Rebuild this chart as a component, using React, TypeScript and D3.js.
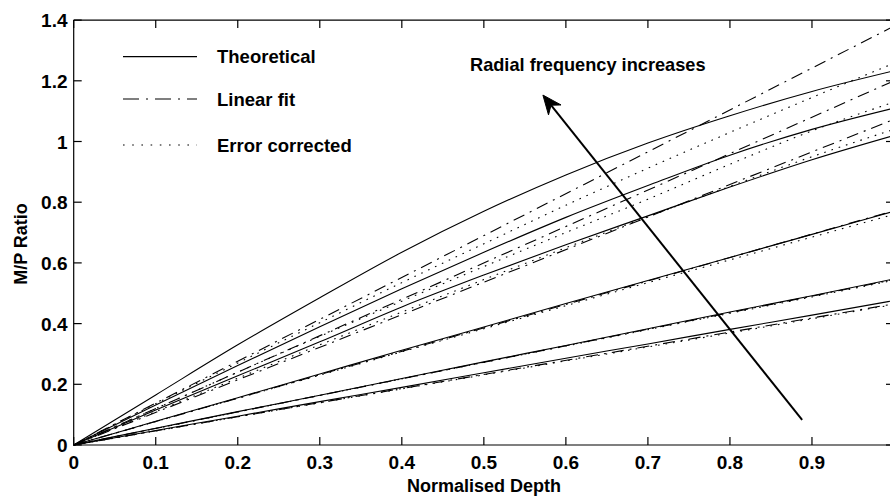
import React from "react";
import * as d3 from "d3";

const depth = [0, 0.1, 0.2, 0.3, 0.4, 0.5, 0.6, 0.7, 0.8, 0.9, 1.0];

const theoretical = [
  [0, 0.165, 0.33, 0.485, 0.635, 0.77, 0.89, 0.995, 1.085, 1.165, 1.233],
  [0, 0.132, 0.262, 0.39, 0.515, 0.635, 0.75, 0.855, 0.955, 1.04, 1.11],
  [0, 0.115, 0.228, 0.34, 0.455, 0.56, 0.66, 0.755, 0.85, 0.94, 1.02],
  [0, 0.078, 0.156, 0.234, 0.312, 0.389, 0.466, 0.542, 0.618, 0.694, 0.77],
  [0, 0.055, 0.11, 0.164, 0.219, 0.274, 0.328, 0.383, 0.438, 0.492, 0.547],
  [0, 0.048, 0.095, 0.143, 0.19, 0.238, 0.286, 0.333, 0.381, 0.428, 0.476],
];

const fitDepth = [0, 1.0];
const linearFit = [
  [0, 1.38],
  [0, 1.2],
  [0, 1.073],
  [0, 0.772],
  [0, 0.545],
  [0, 0.465],
];

const errorCorrected = [
  [0, 0.136, 0.27, 0.403, 0.535, 0.663, 0.79, 0.912, 1.03, 1.145, 1.258],
  [0, 0.12, 0.24, 0.358, 0.474, 0.588, 0.7, 0.81, 0.925, 1.035, 1.13],
  [0, 0.11, 0.22, 0.33, 0.438, 0.545, 0.65, 0.752, 0.852, 0.95, 1.04],
  [0, 0.077, 0.154, 0.23, 0.307, 0.383, 0.459, 0.535, 0.61, 0.685, 0.76],
  [0, 0.054, 0.109, 0.163, 0.218, 0.272, 0.326, 0.38, 0.434, 0.488, 0.543],
  [0, 0.046, 0.093, 0.139, 0.185, 0.231, 0.277, 0.323, 0.369, 0.416, 0.463],
];

const xTicks = [0, 0.1, 0.2, 0.3, 0.4, 0.5, 0.6, 0.7, 0.8, 0.9];
const xTickLabels = ["0", "0.1", "0.2", "0.3", "0.4", "0.5", "0.6", "0.7", "0.8", "0.9"];
const yTicks = [0, 0.2, 0.4, 0.6, 0.8, 1.0, 1.2, 1.4];
const yTickLabels = ["0", "0.2", "0.4", "0.6", "0.8", "1", "1.2", "1.4"];

const legendLabels = ["Theoretical", "Linear fit", "Error corrected"];
const annotationText = "Radial frequency increases";
const arrowTail = [0.888, 0.083];
const arrowTip = [0.572, 1.153];

const W = 890;
const H = 497;
const FONT = "'Liberation Sans', Arial, Helvetica, sans-serif";

export default function App() {
  const x = d3.scaleLinear().domain([0, 1]).range([73.7, 894]);
  const y = d3.scaleLinear().domain([0, 1.4]).range([445, 20.1]);

  const curveLine = d3
    .line<number>()
    .x((_, i) => x(depth[i]))
    .y((d) => y(d))
    .curve(d3.curveMonotoneX);
  const straight = d3
    .line<number>()
    .x((_, i) => x(fitDepth[i]))
    .y((d) => y(d));

  const [x0, x1] = x.range();
  const [y0, y1] = y.range();
  const tickLen = 8;

  // arrow
  const tx = x(arrowTail[0]);
  const ty = y(arrowTail[1]);
  const hx = x(arrowTip[0]);
  const hy = y(arrowTip[1]);
  const len = Math.hypot(hx - tx, hy - ty);
  const ux = (hx - tx) / len;
  const uy = (hy - ty) / len;
  const nx = -uy;
  const ny = ux;
  const headL = 19;
  const headW = 8;
  const notch = 13;
  const headPath = `M${hx},${hy} L${hx - ux * headL + nx * headW},${hy - uy * headL + ny * headW} L${hx - ux * notch},${hy - uy * notch} L${hx - ux * headL - nx * headW},${hy - uy * headL - ny * headW} Z`;

  const legendX1 = 123;
  const legendX2 = 197;
  const legendYs = [56.7, 99, 145];
  const legendDash = [null, "16,7,2,7", "1.6,7.6"];

  return (
    <svg
      width={W}
      height={H}
      style={{ position: "absolute", left: 0, top: 0, background: "#fff" }}
      fontFamily={FONT}
    >
      <rect x={0} y={0} width={W} height={H} fill="#fff" />
      {/* frame */}
      <g stroke="#000" strokeWidth={1.2} fill="none">
        <line x1={x0} y1={y0} x2={x1} y2={y0} />
        <line x1={x0} y1={y1} x2={x1} y2={y1} />
        <line x1={x0} y1={y0} x2={x0} y2={y1} />
        <line x1={x1} y1={y0} x2={x1} y2={y1} />
        {xTicks.map((t) => (
          <g key={"xt" + t}>
            <line x1={x(t)} x2={x(t)} y1={y0} y2={y0 - tickLen} />
            <line x1={x(t)} x2={x(t)} y1={y1} y2={y1 + tickLen} />
          </g>
        ))}
        {yTicks.map((t) => (
          <g key={"yt" + t}>
            <line x1={x0} x2={x0 + tickLen} y1={y(t)} y2={y(t)} />
            <line x1={x1} x2={x1 - tickLen} y1={y(t)} y2={y(t)} />
          </g>
        ))}
      </g>
      {/* tick labels */}
      <g fontSize={19} fontWeight="bold" fill="#000">
        {xTicks.map((t, i) => (
          <text key={"xl" + t} x={x(t)} y={468.5} textAnchor="middle">
            {xTickLabels[i]}
          </text>
        ))}
        {yTicks.map((t, i) => (
          <text key={"yl" + t} x={67.5} y={y(t) + 7} textAnchor="end">
            {yTickLabels[i]}
          </text>
        ))}
      </g>
      {/* axis labels */}
      <text x={484} y={492} textAnchor="middle" fontSize={18} fontWeight="bold">
        Normalised Depth
      </text>
      <text
        transform={`translate(27,244) rotate(-90)`}
        textAnchor="middle"
        fontSize={18}
        fontWeight="bold"
      >
        M/P Ratio
      </text>
      {/* data lines */}
      <g fill="none" stroke="#000" strokeWidth={1.1}>
        {theoretical.map((s, i) => (
          <path key={"th" + i} d={curveLine(s) || ""} />
        ))}
        {linearFit.map((s, i) => (
          <path key={"lf" + i} d={straight(s) || ""} strokeDasharray="12,6,2,6" />
        ))}
        {errorCorrected.map((s, i) => (
          <path key={"ec" + i} d={curveLine(s) || ""} strokeDasharray="1.6,6" />
        ))}
      </g>
      {/* legend */}
      <g>
        {legendLabels.map((l, i) => (
          <g key={l}>
            <line
              x1={legendX1}
              x2={legendX2}
              y1={legendYs[i]}
              y2={legendYs[i]}
              stroke="#000"
              strokeWidth={1.2}
              strokeDasharray={legendDash[i] || undefined}
            />
            <text x={217} y={legendYs[i] + 6.5} fontSize={18.5} fontWeight="bold">
              {l}
            </text>
          </g>
        ))}
      </g>
      {/* annotation */}
      <text x={470} y={71} fontSize={18.2} fontWeight="bold">
        {annotationText}
      </text>
      <line
        x1={tx}
        y1={ty}
        x2={hx - ux * notch}
        y2={hy - uy * notch}
        stroke="#000"
        strokeWidth={2}
      />
      <path d={headPath} fill="#000" stroke="#000" strokeWidth={1} strokeLinejoin="miter" />
    </svg>
  );
}
